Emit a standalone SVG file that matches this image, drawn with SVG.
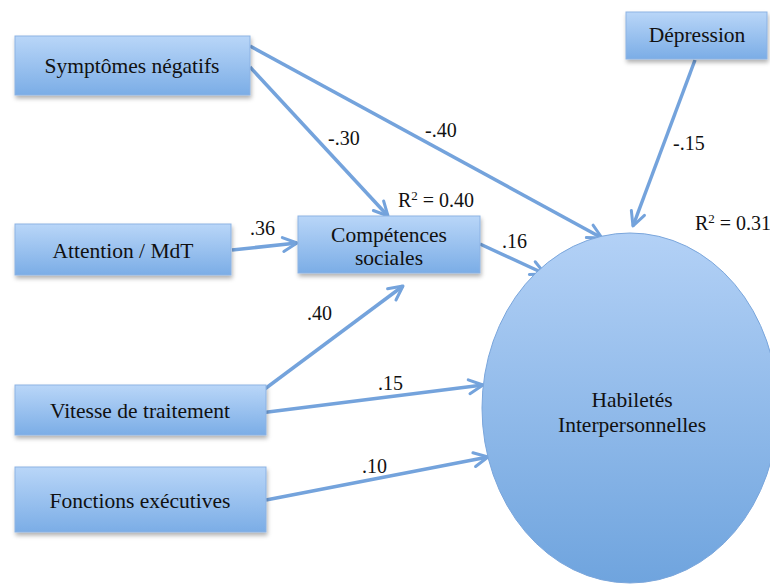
<svg xmlns="http://www.w3.org/2000/svg" width="770" height="585" viewBox="0 0 770 585">
<defs>
<linearGradient id="gBox" x1="0" y1="0" x2="0" y2="1">
<stop offset="0" stop-color="#b9d6f8"/>
<stop offset="1" stop-color="#7badE6"/>
</linearGradient>
<linearGradient id="gEll" x1="0" y1="0" x2="0" y2="1">
<stop offset="0" stop-color="#b3d1f6"/>
<stop offset="1" stop-color="#6fa4de"/>
</linearGradient>
<filter id="sh" x="-10%" y="-10%" width="130%" height="140%">
<feDropShadow dx="1" dy="3" stdDeviation="2" flood-color="#000" flood-opacity="0.3"/>
</filter>
<marker id="arr" viewBox="0 0 18 18" refX="16" refY="9" markerWidth="18" markerHeight="18" markerUnits="userSpaceOnUse" orient="auto">
<path d="M2,2 L16,9 L2,16" fill="none" stroke="#74a3dc" stroke-width="3" stroke-linecap="round" stroke-linejoin="round"/>
</marker>
</defs>
<style>
.box{fill:url(#gBox);stroke:#8db3e4;stroke-width:1;filter:url(#sh)}
.t{font-family:"Liberation Serif","Times New Roman",serif;font-size:21.5px;fill:#111;text-anchor:middle}
.lab{font-family:"Liberation Serif","Times New Roman",serif;font-size:20px;fill:#111}
.c{stroke:#74a3dc;stroke-width:3.5;fill:none;marker-end:url(#arr)}
</style>
<rect width="770" height="585" fill="#fff"/>
<g id="connectors">
<line class="c" x1="250" y1="46" x2="602" y2="238"/>
<line class="c" x1="250" y1="67" x2="388" y2="216"/>
<line class="c" x1="232" y1="250" x2="297" y2="243"/>
<line class="c" x1="695" y1="60" x2="633" y2="226"/>
<line class="c" x1="480" y1="244" x2="545" y2="274"/>
<line class="c" x1="250" y1="400" x2="403" y2="286"/>
<line class="c" x1="260" y1="413" x2="483" y2="385"/>
<line class="c" x1="266" y1="500" x2="488" y2="457"/>
</g>
<g id="n-symptomes">
<rect class="box" x="15" y="36" width="235" height="59"/>
<text class="t" x="132" y="73">Symptômes négatifs</text>
</g>
<g id="n-attention">
<rect class="box" x="15" y="224" width="216" height="51"/>
<text class="t" x="123" y="258">Attention / MdT</text>
</g>
<g id="n-competences">
<rect class="box" x="298" y="216" width="182" height="57"/>
<text class="t" x="389" y="242">Compétences</text>
<text class="t" x="389" y="265">sociales</text>
</g>
<g id="n-depression">
<rect class="box" x="626" y="12" width="141" height="47"/>
<text class="t" x="697" y="42">Dépression</text>
</g>
<g id="n-vitesse">
<rect class="box" x="15" y="385" width="251" height="50"/>
<text class="t" x="140" y="418">Vitesse de traitement</text>
</g>
<g id="n-fonctions">
<rect class="box" x="15" y="467" width="251" height="65"/>
<text class="t" x="140" y="508">Fonctions exécutives</text>
</g>
<g id="n-habiletes">
<ellipse cx="630" cy="408" rx="148" ry="175" fill="url(#gEll)" stroke="#7aa6dc" stroke-width="1"/>
<text class="t" x="632" y="407">Habiletés</text>
<text class="t" x="632" y="432">Interpersonnelles</text>
</g>
<g id="labels">
<text class="lab" x="328" y="145">-.30</text>
<text class="lab" x="425" y="137">-.40</text>
<text class="lab" x="673" y="150">-.15</text>
<text class="lab" x="250" y="235">.36</text>
<text class="lab" x="398" y="207">R<tspan font-size="13" dy="-7">2</tspan><tspan dy="7"> = 0.40</tspan></text>
<text class="lab" x="695" y="230">R<tspan font-size="13" dy="-7">2</tspan><tspan dy="7"> = 0.31</tspan></text>
<text class="lab" x="502" y="248">.16</text>
<text class="lab" x="307" y="320">.40</text>
<text class="lab" x="378" y="390">.15</text>
<text class="lab" x="362" y="473">.10</text>
</g>
</svg>
